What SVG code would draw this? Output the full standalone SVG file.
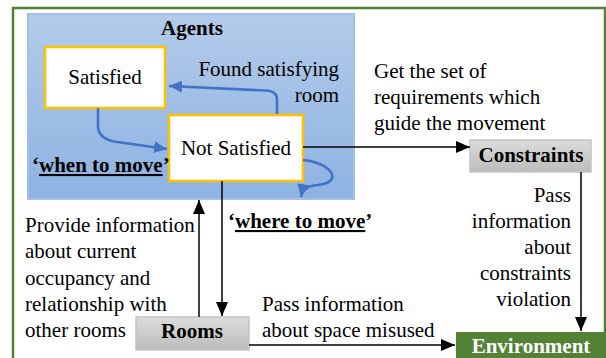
<svg xmlns="http://www.w3.org/2000/svg" width="606" height="358" viewBox="0 0 606 358">
<defs>
<linearGradient id="agentsGrad" x1="0" y1="0" x2="0" y2="1">
<stop offset="0" stop-color="#b3cbea"/>
<stop offset="1" stop-color="#8db2e2"/>
</linearGradient>
<linearGradient id="grayGrad" x1="0" y1="0" x2="0" y2="1">
<stop offset="0" stop-color="#dcdcdc"/>
<stop offset="1" stop-color="#bcbcbc"/>
</linearGradient>
<marker id="blackHead" markerUnits="userSpaceOnUse" viewBox="0 0 14 12" refX="14" refY="6" markerWidth="14" markerHeight="12" orient="auto">
<path d="M0,0 L14,6 L0,12 z" fill="#000"/>
</marker>
<marker id="blueHead" markerUnits="userSpaceOnUse" viewBox="0 0 13 12" refX="13" refY="6" markerWidth="13" markerHeight="12" orient="auto">
<path d="M0,0 L13,6 L0,12 z" fill="#4472c4"/>
</marker>
<style>
text { font-family: "Liberation Serif", "Times New Roman", serif; font-size: 21px; fill: #000; }
.b { font-weight: bold; }
.mid { text-anchor: middle; }
.end { text-anchor: end; }
.state { fill: #fff; stroke: #ffc000; stroke-width: 2.5; }
.gray { fill: url(#grayGrad); stroke: #c4c4c4; stroke-width: 1.5; }
.blk { fill: none; stroke: #000; stroke-width: 1.5; marker-end: url(#blackHead); }
.blu { fill: none; stroke: #4472c4; stroke-width: 2.6; marker-end: url(#blueHead); }
</style>
</defs>

<rect x="13" y="8" width="592" height="362" fill="#fff" stroke="#548235" stroke-width="2.5"/>

<g id="agents">
<rect x="28" y="14" width="326" height="185" fill="url(#agentsGrad)" stroke="#9fc0e9" stroke-width="2"/>
<text class="b mid" x="192" y="35">Agents</text>
</g>

<g id="satisfied">
<rect class="state" x="45" y="47" width="120" height="61"/>
<text class="mid" x="105" y="84">Satisfied</text>
</g>

<g id="not-satisfied">
<rect class="state" x="169" y="115" width="134" height="66"/>
<text class="mid" x="236" y="155">Not Satisfied</text>
</g>

<g id="constraints">
<rect class="gray" x="470" y="140" width="121" height="32"/>
<text class="b mid" x="531" y="162">Constraints</text>
</g>

<g id="rooms">
<rect class="gray" x="136" y="317" width="113" height="33"/>
<text class="b mid" x="192" y="338">Rooms</text>
</g>

<g id="environment">
<rect x="456" y="332" width="149" height="30" fill="#548235"/>
<text class="b mid" x="531" y="353" style="fill:#fff">Environment</text>
</g>

<g id="connectors">
<path class="blk" d="M303,147 H470"/>
<path class="blk" d="M581,172 V331"/>
<path class="blk" d="M222,181 V316"/>
<path class="blk" d="M199,317 V200"/>
<path class="blk" d="M249,345 H455"/>
<path class="blu" d="M277,114 V99 Q277,91 265,90.5 L169,86"/>
<path class="blu" d="M98,108 V126 Q98,138 114,141.5 L167,149"/>
<path class="blu" d="M303,160 C330,162 345,182 318,185 Q303,186 301,197"/>
</g>

<g id="labels">
<text class="end" x="339" y="76">Found satisfying</text>
<text class="end" x="339" y="102">room</text>
<text x="374" y="78">Get the set of</text>
<text x="374" y="104">requirements which</text>
<text x="374" y="130">guide the movement</text>
<text class="end" x="571" y="202">Pass</text>
<text class="end" x="571" y="228">information</text>
<text class="end" x="571" y="254">about</text>
<text class="end" x="571" y="280">constraints</text>
<text class="end" x="571" y="306">violation</text>
<text class="b" x="32" y="172">‘<tspan text-decoration="underline">when to move</tspan>’</text>
<text class="b" x="228" y="228">‘<tspan text-decoration="underline">where to move</tspan>’</text>
<text x="25" y="232">Provide information</text>
<text x="25" y="258">about current</text>
<text x="25" y="285">occupancy and</text>
<text x="25" y="311">relationship with</text>
<text x="25" y="337">other rooms</text>
<text x="262" y="311">Pass information</text>
<text x="262" y="337">about space misused</text>
</g>
</svg>
